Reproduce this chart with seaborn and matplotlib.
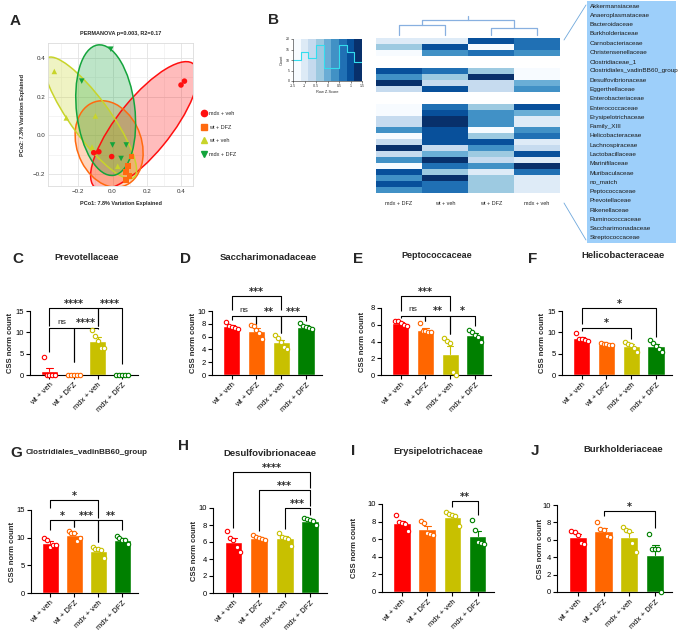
import numpy as np
import pandas as pd
import matplotlib
matplotlib.use('Agg')
import matplotlib.pyplot as plt
import seaborn as sns
from matplotlib.patches import Ellipse, Rectangle
from matplotlib.lines import Line2D
from matplotlib.colors import ListedColormap

sns.set_theme(style='ticks')
plt.rcParams['font.family'] = ['Liberation Sans', 'DejaVu Sans']

# ---------------- data ----------------
# Panel A (PCoA)
pcoa_groups = ['mdx + veh', 'wt + DFZ', 'wt + veh', 'mdx + DFZ']
mdx_veh_pc1 = [0.40, 0.42, -0.11, -0.08, -0.005]
mdx_veh_pc2 = [0.26, 0.28, -0.09, -0.085, -0.11]
wt_dfz_pc1 = [0.11, 0.09, 0.08, 0.10, 0.08]
wt_dfz_pc2 = [-0.11, -0.16, -0.19, -0.21, -0.23]
wt_veh_pc1 = [-0.34, -0.27, -0.10, -0.12, 0.03]
wt_veh_pc2 = [0.33, 0.09, 0.10, -0.06, -0.16]
mdx_dfz_pc1 = [-0.18, -0.01, 0.0, 0.08, 0.05]
mdx_dfz_pc2 = [0.28, 0.445, -0.05, -0.05, -0.12]

# Panel B (heatmap of row z-scores)
heat_cols = ['mdx + DFZ', 'wt + veh', 'wt + DFZ', 'mdx + veh']
families = ['Akkermansiaceae', 'Anaeroplasmataceae', 'Bacteroidaceae', 'Burkholderiaceae',
            'Carnobacteriaceae', 'Christensenellaceae', 'Clostridiaceae_1',
            'Clostridiales_vadinBB60_group', 'Desulfovibrionaceae', 'Eggerthellaceae',
            'Enterobacteriaceae', 'Enterococcaceae', 'Erysipelotrichaceae', 'Family_XIII',
            'Helicobacteraceae', 'Lachnospiraceae', 'Lactobacillaceae', 'Marinifilaceae',
            'Muribaculaceae', 'no_match', 'Peptococcaceae', 'Prevotellaceae', 'Rikenellaceae',
            'Ruminococcaceae', 'Saccharimonadaceae', 'Streptococcaceae']
nan = np.nan
heat_z = [
    [-1.0, -0.9, 1.1, 0.8],
    [-0.3, 1.1, -1.5, 0.7],
    [-1.3, 0.3, 0.8, 0.2],
    [nan, nan, nan, nan],
    [nan, nan, nan, nan],
    [1.1, 0.7, -0.5, -1.3],
    [0.2, -0.3, 1.4, -1.3],
    [1.4, -0.8, -0.6, 0.0],
    [-0.8, 1.1, -0.6, 0.3],
    [nan, nan, nan, nan],
    [nan, nan, nan, nan],
    [-1.3, 0.5, -0.2, 1.0],
    [-1.3, 1.0, 0.2, 0.1],
    [-0.7, 1.4, 0.3, -1.0],
    [-0.8, 1.4, 0.4, -1.0],
    [0.4, 0.9, -1.5, 0.2],
    [-1.2, 1.0, -0.3, 0.5],
    [-0.8, 0.9, 1.0, -1.1],
    [1.2, -0.8, 0.4, -0.8],
    [-0.6, 0.1, -0.4, 0.9],
    [0.3, 1.3, -0.6, -1.0],
    [-1.2, 0.8, 0.4, 1.4],
    [1.0, -0.5, -1.0, 0.5],
    [0.2, 1.3, -0.5, -1.0],
    [0.9, 0.6, -0.4, -1.1],
    [0.4, 0.8, -0.2, -1.0],
]
key_edges = [-1.5, -1.1667, -0.8333, -0.5, -0.1667, 0.1667, 0.5, 0.8333, 1.1667, 1.5]
key_counts = [10, 14, 11, 17, 6, 6, 17, 14, 9]

# Bar panels (CSS norm count, 5 mice per group)
groups = ['wt + veh', 'wt + DFZ', 'mdx + veh', 'mdx + DFZ']
prevotellaceae = [[4.2, 0, 0, 0, 0], [0, 0, 0, 0, 0], [10.5, 9.2, 8.0, 6.4, 6.3], [0.1, 0, 0.1, 0, 0]]
saccharimonadaceae = [[8.3, 7.7, 7.5, 7.4, 7.2], [7.8, 7.6, 7.0, 6.6, 5.7], [6.2, 5.8, 5.2, 4.4, 4.0], [8.2, 7.6, 7.5, 7.3, 7.2]]
peptococcaceae = [[6.5, 6.4, 6.2, 6.0, 5.9], [6.2, 5.3, 5.2, 5.1, 5.1], [4.4, 4.1, 3.8, 0.3, 0.0], [5.4, 5.1, 4.8, 4.5, 4.0]]
helicobacteraceae = [[9.9, 8.5, 8.4, 8.3, 8.0], [7.4, 7.3, 7.2, 7.1, 7.0], [7.8, 7.2, 7.1, 6.4, 5.5], [8.3, 7.5, 6.7, 6.2, 5.5]]
clostridiales_vadinbb60 = [[9.9, 9.6, 8.3, 8.6, 8.7], [11.2, 10.9, 10.9, 9.4, 10.0], [8.3, 8.0, 7.9, 7.8, 6.4], [10.3, 10.0, 9.6, 9.5, 8.9]]
desulfovibrionaceae = [[7.3, 6.5, 6.2, 5.4, 4.8], [6.8, 6.6, 6.5, 6.3, 6.2], [7.1, 6.6, 6.5, 6.4, 5.5], [8.8, 8.7, 8.6, 8.5, 8.0]]
erysipelotrichaceae = [[8.7, 7.9, 7.8, 7.7, 6.9], [8.1, 7.8, 6.7, 6.6, 6.5], [9.1, 8.9, 8.7, 8.6, 7.5], [8.2, 7.0, 5.7, 5.6, 5.5]]
burkholderiaceae = [[7.0, 6.9, 6.6, 5.6, 5.5], [8.0, 7.2, 7.1, 6.4, 6.3], [7.5, 7.1, 7.0, 5.6, 4.6], [6.7, 5.0, 4.9, 4.9, 0.0]]

# ---------------- figure ----------------
W, H = 684, 630
fig = plt.figure(figsize=(W / 100, H / 100), dpi=100)


def px_axes(l, t, r, b):
    return fig.add_axes([l / W, 1 - b / H, (r - l) / W, (b - t) / H])


def fx(x):
    return x / W


def fy(y):
    return 1 - y / H


def letter(x, y, s):
    fig.text(fx(x), fy(y), s, fontsize=11, fontweight='bold', ha='left', va='center')


# ---------- Panel A ----------
axA = px_axes(48, 43, 193, 186)
a_cols = ['#FF1010', '#FF6A10', '#C8D42A', '#14A43C']
ell = [((0.185, 0.05), 0.86, 0.30, 47), ((-0.02, -0.045), 0.47, 0.37, 120),
       ((-0.13, 0.09), 0.80, 0.22, 130), ((-0.04, 0.13), 0.34, 0.68, 8)]
for (c, w, h, ang), col in zip(ell, a_cols):
    axA.add_patch(Ellipse(c, w, h, angle=ang, facecolor=col, alpha=0.28, edgecolor='none', zorder=1))
    axA.add_patch(Ellipse(c, w, h, angle=ang, facecolor='none', edgecolor=col, lw=1.1, zorder=2))
pdf = pd.DataFrame({
    'PC1': mdx_veh_pc1 + wt_dfz_pc1 + wt_veh_pc1 + mdx_dfz_pc1,
    'PC2': mdx_veh_pc2 + wt_dfz_pc2 + wt_veh_pc2 + mdx_dfz_pc2,
    'group': np.repeat(pcoa_groups, [len(mdx_veh_pc1), len(wt_dfz_pc1), len(wt_veh_pc1), len(mdx_dfz_pc1)])})
sns.scatterplot(data=pdf, x='PC1', y='PC2', hue='group', style='group', hue_order=pcoa_groups,
                style_order=pcoa_groups, markers=['o', 's', '^', 'v'], palette=a_cols, s=16,
                edgecolor='none', ax=axA, zorder=3, legend=False)
axA.set_xlim(-0.377, 0.47)
axA.set_ylim(-0.262, 0.477)
axA.set_xticks([-0.2, 0.0, 0.2, 0.4])
axA.set_yticks([-0.2, 0.0, 0.2, 0.4])
axA.set_xticks([-0.3, -0.1, 0.1, 0.3], minor=True)
axA.set_yticks([-0.1, 0.1, 0.3], minor=True)
axA.grid(True, which='major', color='#e2e2e2', lw=0.6)
axA.grid(True, which='minor', color='#f0f0f0', lw=0.5)
axA.set_axisbelow(True)
for sp in axA.spines.values():
    sp.set_color('#dcdcdc')
    sp.set_linewidth(0.6)
axA.tick_params(labelsize=4.5, length=0, pad=2, colors='#333333', which='both')
axA.set_xlabel('PCo1: 7.8% Variation Explained', fontsize=4, fontweight='bold', labelpad=5)
axA.set_ylabel('PCo2: 7.3% Variation Explained', fontsize=4, fontweight='bold', labelpad=6)
axA.set_title('PERMANOVA p=0.003, R2=0.17', fontsize=4, fontweight='bold', pad=6)
handles = [Line2D([], [], marker=m, color=c, ls='none', markersize=4.5)
           for m, c in zip(['o', 's', '^', 'v'], a_cols)]
fig.legend(handles, pcoa_groups, loc='upper left', bbox_to_anchor=(fx(201), fy(111)),
           frameon=False, fontsize=4, labelspacing=1.55, handletextpad=0.3, handlelength=1.2,
           borderpad=0, borderaxespad=0)
letter(10, 21, 'A')

# ---------- Panel B ----------
letter(268, 20, 'B')
cmap9 = ListedColormap(plt.get_cmap('Blues')(np.linspace(0, 1, 9)))
axH = px_axes(376, 38, 560, 193)
hdf = pd.DataFrame(heat_z, index=families, columns=heat_cols)
sns.heatmap(hdf, ax=axH, cmap=cmap9, vmin=-1.5, vmax=1.5, cbar=False, yticklabels=False)
axH.set_xticklabels(heat_cols, rotation=0, fontsize=4)
axH.tick_params(axis='x', length=0, pad=6)
axH.set_ylabel('')
axH.set_xlabel('')

# dendrogram above heatmap
axD = px_axes(376, 15, 560, 37)
dcol = '#88B0E0'
axD.plot([0.5, 0.5, 1.5, 1.5], [0.1, 0.55, 0.55, 0.1], color=dcol, lw=0.9)
axD.plot([2.5, 2.5, 3.5, 3.5], [0.1, 0.45, 0.45, 0.1], color=dcol, lw=0.9)
axD.plot([1.0, 1.0, 3.0, 3.0], [0.55, 0.8, 0.8, 0.45], color=dcol, lw=0.9)
axD.plot([2.0, 2.0], [0.8, 1.0], color=dcol, lw=0.9)
axD.set_xlim(0, 4)
axD.set_ylim(0, 1.05)
axD.axis('off')

# colour key
axK = px_axes(293, 39, 362, 81)
grad = np.linspace(-1.5, 1.5, 9).reshape(1, -1)
axK.imshow(grad, cmap=cmap9, vmin=-1.5, vmax=1.5, aspect='auto', extent=(-1.5, 1.5, 0, 20))
axK.step(key_edges, key_counts + [key_counts[-1]], where='post', color='#33DDEE', lw=0.8)
axK.set_xlim(-1.5, 1.5)
axK.set_ylim(0, 20)
axK.set_xticks([-1.5, -1, -0.5, 0, 0.5, 1, 1.5])
axK.set_xticklabels(['-1.5', '-1', '-0.5', '0', '0.5', '1', '1.5'])
axK.set_yticks([0, 5, 10, 15, 20])
axK.tick_params(labelsize=2.5, length=1.5, width=0.4, pad=1)
for sp in ['top', 'right']:
    axK.spines[sp].set_visible(False)
for sp in ['left', 'bottom']:
    axK.spines[sp].set_linewidth(0.4)
axK.set_xlabel('Row Z-Score', fontsize=2.8, labelpad=1)
axK.set_ylabel('Count', fontsize=2.8, labelpad=1)

# family list box
fig.patches.append(Rectangle((fx(587), fy(243)), fx(676) - fx(587), fy(1) - fy(243),
                             transform=fig.transFigure, facecolor='#9DCFFA', edgecolor='none'))
for k, name in enumerate(families):
    fig.text(fx(590), fy(6 + k * 9.28), name, fontsize=4.6, va='center', ha='left', color='#1a1a1a')
fig.add_artist(Line2D([fx(564), fx(586)], [fy(40), fy(5)], transform=fig.transFigure, color='#6FA8DC', lw=0.6))
fig.add_artist(Line2D([fx(564), fx(586)], [fy(203), fy(240)], transform=fig.transFigure, color='#6FA8DC', lw=0.6))

# ---------- Bar panels ----------
bar_colors = ['#FF0000', '#FF6600', '#C8C000', '#008000']
offs = np.array([-0.24, -0.12, 0.0, 0.12, 0.24])


def bracket(ax, i, j, y, yi, yj, label):
    ax.plot([i, i, j, j], [yi, y, y, yj], color='black', lw=0.8, clip_on=False, solid_capstyle='butt')
    if label == 'ns':
        ax.annotate(label, xy=((i + j) / 2, y), xytext=(0, 1.5), textcoords='offset points',
                    ha='center', va='bottom', fontsize=6, annotation_clip=False)
    else:
        ax.annotate(label, xy=((i + j) / 2, y), xytext=(0, -0.5), textcoords='offset points',
                    ha='center', va='bottom', fontsize=7, fontweight='bold',
                    family='DejaVu Sans', annotation_clip=False)


def bar_panel(box, values, ticks, title, title_xy, title_fs, let, let_xy, brackets, ylab_x):
    ax = px_axes(*box)
    df = pd.DataFrame({'group': np.repeat(groups, [len(v) for v in values]),
                       'val': np.concatenate(values)})
    sns.barplot(data=df, x='group', y='val', hue='group', palette=bar_colors, errorbar=None,
                width=0.7, saturation=1, ax=ax, legend=False, zorder=1)
    for i, v in enumerate(values):
        v = np.asarray(v, float)
        m = v.mean()
        se = v.std(ddof=1) / np.sqrt(len(v))
        ax.plot([i, i], [m, m + se], color=bar_colors[i], lw=0.8, zorder=2, clip_on=False)
        ax.plot([i - 0.13, i + 0.13], [m + se, m + se], color=bar_colors[i], lw=0.8, zorder=2, clip_on=False)
        ax.scatter(i + offs[:len(v)], v, s=10, facecolor='white', edgecolor=bar_colors[i],
                   linewidth=0.8, zorder=3, clip_on=False)
    ax.set_xlim(-0.8, 3.65)
    ax.set_ylim(0, ticks[-1])
    ax.set_yticks(ticks)
    ax.set_yticklabels([str(t) for t in ticks])
    ax.set_xticks(range(4))
    ax.set_xticklabels(groups, rotation=45, ha='right', rotation_mode='anchor')
    ax.tick_params(axis='both', direction='out', length=3, width=0.8, labelsize=5.5, pad=1.5, colors='black')
    for sp in ['top', 'right']:
        ax.spines[sp].set_visible(False)
    for sp in ['left', 'bottom']:
        ax.spines[sp].set_linewidth(0.8)
        ax.spines[sp].set_color('black')
    ax.set_xlabel('')
    ax.set_ylabel('')
    fig.text(fx(ylab_x), 1 - ((box[1] + box[3]) / 2) / H, 'CSS norm count', rotation=90,
             fontsize=5.5, ha='center', va='center', fontweight='bold')
    for br in brackets:
        bracket(ax, *br)
    fig.text(fx(title_xy[0]), fy(title_xy[1]), title, fontsize=title_fs, fontweight='bold', ha='center', va='center')
    letter(let_xy[0], let_xy[1], let)
    return ax


R1B = 375
bar_panel((30, 311, 138, R1B), prevotellaceae, [0, 5, 10, 15], 'Prevotellaceae', (87, 257), 6.6, 'C', (12, 259),
          [(0, 2, 15.7, 11.6, 11.6, '****'), (2, 3, 15.7, 11.6, 2.5, '****'),
           (0, 1, 11.1, 5.5, 3.0, 'ns'), (1, 2, 11.1, 3.0, 10.8, '****')], 11)
bar_panel((212, 311, 322, R1B), saccharimonadaceae, [0, 2, 4, 6, 8, 10], 'Saccharimonadaceae', (268, 258), 6.8, 'D', (180, 259),
          [(0, 2, 12.3, 10.1, 10.1, '***'), (0, 1, 9.2, 8.6, 8.0, 'ns'),
           (1, 2, 9.2, 8.0, 6.6, '**'), (2, 3, 9.2, 6.6, 8.5, '***')], 193)
bar_panel((381, 308, 491, R1B), peptococcaceae, [0, 2, 4, 6, 8], 'Peptococcaceae', (437, 256), 6.5, 'E', (353, 259),
          [(0, 2, 9.4, 7.6, 7.6, '***'), (0, 1, 7.1, 6.8, 6.5, 'ns'),
           (1, 2, 7.1, 6.5, 4.9, '**'), (2, 3, 7.1, 4.9, 5.8, '*')], 363)
bar_panel((562, 311, 672, R1B), helicobacteraceae, [0, 5, 10, 15], 'Helicobacteraceae', (623, 256), 6.8, 'F', (528, 259),
          [(0, 3, 15.7, 12.0, 9.0, '*'), (0, 2, 11.1, 10.4, 8.5, '*')], 543)

bar_panel((31, 510, 138, 593), clostridiales_vadinbb60, [0, 5, 10, 15], 'Clostridiales_vadinBB60_group', (87, 453), 5.8, 'G', (10, 453),
          [(0, 2, 16.8, 15.3, 13.6, '*'), (0, 1, 13.2, 11.4, 11.9, '*'),
           (1, 2, 13.2, 11.9, 9.2, '***'), (2, 3, 13.2, 9.2, 11.3, '**')], 13)
bar_panel((213, 508, 327, 593), desulfovibrionaceae, [0, 2, 4, 6, 8, 10], 'Desulfovibrionaceae', (270, 454), 6.8, 'H', (178, 446),
          [(0, 3, 14.2, 7.7, 12.3, '****'), (1, 3, 12.1, 7.3, 10.2, '***'),
           (2, 3, 10.0, 7.5, 9.2, '***')], 194)
bar_panel((382, 504, 494, 592), erysipelotrichaceae, [0, 2, 4, 6, 8, 10], 'Erysipelotrichaceae', (438, 452), 6.8, 'I', (351, 451),
          [(2, 3, 10.3, 9.7, 8.8, '**')], 354)
bar_panel((557, 505, 672, 592), burkholderiaceae, [0, 2, 4, 6, 8, 10], 'Burkholderiaceae', (623, 450), 6.8, 'J', (531, 451),
          [(1, 3, 9.3, 8.7, 7.4, '*')], 540)

fig.savefig('out.png', dpi=100)
